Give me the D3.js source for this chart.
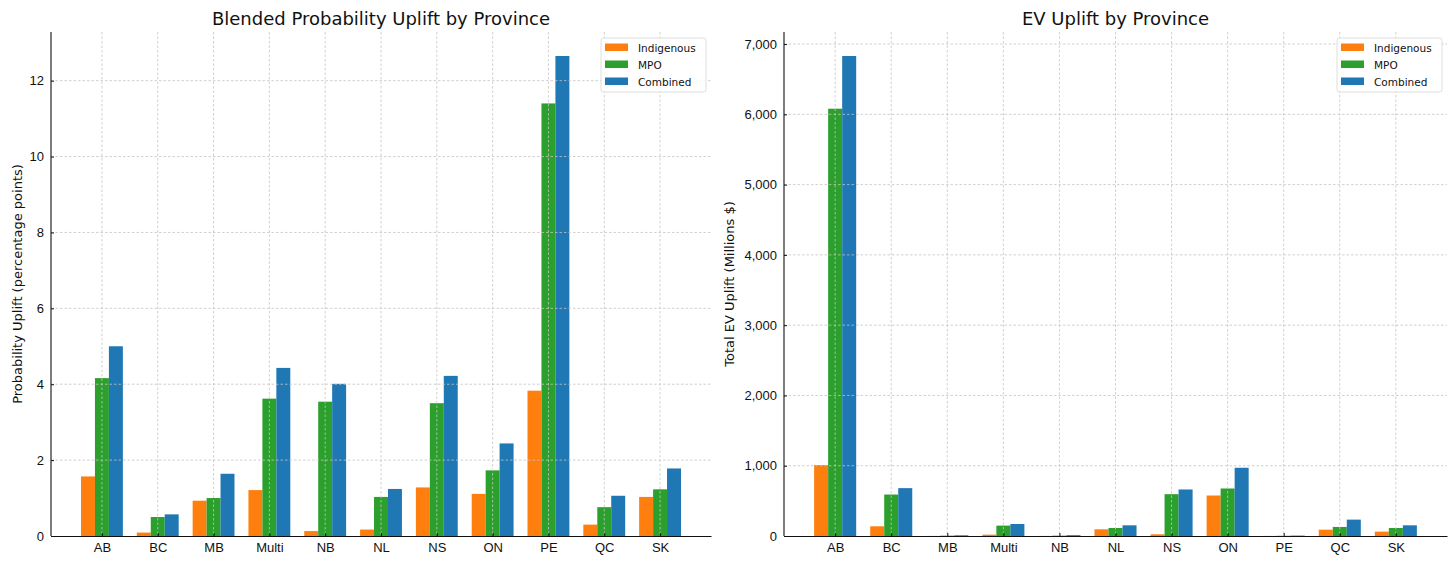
<!DOCTYPE html>
<html lang="en">
<head>
  <meta charset="UTF-8" />
  <title>Uplift by Province</title>
  <style>
    html, body { margin: 0; padding: 0; background: #fff; }
    svg { display: block; font-family: "DejaVu Sans", sans-serif; }
    .grid line { stroke: #c4c4c4; stroke-width: 0.8; stroke-dasharray: 2.5,2; }
    .axis path, .axis line { stroke: #111; }
    .axis text { font-size: 13px; fill: #111; }
    .title { font-size: 18px; fill: #111; text-anchor: middle; }
    .ylabel { font-size: 13px; fill: #111; text-anchor: middle; }
    .legend text { font-size: 10.5px; fill: #111; dominant-baseline: central; }
  </style>
</head>
<body>
  <svg width="1456" height="566"></svg>
  <script src="https://d3js.org/d3.v7.min.js"></script>
  <script>
    const provinces = ["AB", "BC", "MB", "Multi", "NB", "NL", "NS", "ON", "PE", "QC", "SK"];
    const seriesNames = ["Indigenous", "MPO", "Combined"];
    const seriesColors = ["#ff7f0e", "#2ca02c", "#1f77b4"];

    // probability uplift, percentage points
    const probIndigenous = [1.57, 0.09, 0.93, 1.21, 0.13, 0.17, 1.28, 1.11, 3.83, 0.30, 1.03];
    const probMPO        = [4.16, 0.50, 1.00, 3.62, 3.54, 1.03, 3.50, 1.73, 11.40, 0.76, 1.23];
    const probCombined   = [5.00, 0.57, 1.64, 4.43, 4.01, 1.24, 4.22, 2.44, 12.65, 1.06, 1.78];

    // total EV uplift, millions $
    const evIndigenous = [1010, 138, 1, 19, 1, 95, 24, 576, 1, 90, 62];
    const evMPO        = [6080, 590, 5, 148, 5, 114, 595, 676, 3, 129, 114];
    const evCombined   = [6830, 681, 10, 171, 12, 152, 662, 971, 6, 233, 152];

    const probTicks = [0, 2, 4, 6, 8, 10, 12];
    const evTicks = [0, 1000, 2000, 3000, 4000, 5000, 6000, 7000];

    const svg = d3.select("svg");

    function drawPanel(opts) {
      const g = svg.append("g");
      const series = opts.series;
      const barW = 0.25;
      const maxVal = d3.max(series.flat());

      const x = d3.scaleLinear()
        .domain([-0.9125, provinces.length - 1 + 0.9125])
        .range([opts.left, opts.right]);
      const y = d3.scaleLinear()
        .domain([0, maxVal * 1.05])
        .range([opts.bottom, opts.top]);

      // bars
      series.forEach((vals, si) => {
        g.append("g")
          .selectAll("rect")
          .data(vals)
          .join("rect")
          .attr("x", (d, i) => x(i + (si - 1) * barW - barW / 2))
          .attr("width", x(barW) - x(0))
          .attr("y", d => y(d))
          .attr("height", d => y(0) - y(d))
          .attr("fill", seriesColors[si]);
      });

      // grid, drawn over the bars like matplotlib does
      const grid = g.append("g").attr("class", "grid");
      grid.selectAll("line.h")
        .data(opts.ticks.filter(t => t > 0))
        .join("line")
        .attr("class", "h")
        .attr("x1", opts.left).attr("x2", opts.right)
        .attr("y1", d => y(d)).attr("y2", d => y(d));
      grid.selectAll("line.v")
        .data(provinces.map((p, i) => i))
        .join("line")
        .attr("class", "v")
        .attr("x1", d => x(d)).attr("x2", d => x(d))
        .attr("y1", opts.top).attr("y2", opts.bottom);

      // axes
      const yAxis = d3.axisLeft(y)
        .tickValues(opts.ticks)
        .tickFormat(opts.fmt)
        .tickSizeInner(-3).tickSizeOuter(0).tickPadding(7);
      g.append("g")
        .attr("class", "axis")
        .attr("transform", `translate(${opts.left},0)`)
        .call(yAxis)
        .call(a => a.select(".domain").attr("d", `M0,${opts.top}V${opts.bottom}`));

      const xAxis = d3.axisBottom(x)
        .tickValues(provinces.map((p, i) => i))
        .tickFormat(i => provinces[i])
        .tickSizeInner(-3).tickSizeOuter(0).tickPadding(7);
      g.append("g")
        .attr("class", "axis")
        .attr("transform", `translate(0,${opts.bottom})`)
        .call(xAxis);

      g.selectAll(".axis .domain").attr("stroke-width", 1.1);

      // title and y label
      g.append("text")
        .attr("class", "title")
        .attr("x", (opts.left + opts.right) / 2)
        .attr("y", 25)
        .text(opts.title);

      g.append("text")
        .attr("class", "ylabel")
        .attr("transform", `translate(${opts.labelX},${(opts.top + opts.bottom) / 2}) rotate(-90)`)
        .text(opts.ylabel);

      // legend
      const lw = 105, lh = 54;
      const lx = opts.right - 5 - lw, ly = opts.top + 6;
      const legend = g.append("g").attr("class", "legend");
      legend.append("rect")
        .attr("x", lx).attr("y", ly)
        .attr("width", lw).attr("height", lh)
        .attr("rx", 2.5)
        .attr("fill", "#fff").attr("fill-opacity", 0.85)
        .attr("stroke", "#d6d6d6").attr("stroke-width", 0.8);
      const rows = legend.selectAll("g.row")
        .data(seriesNames)
        .join("g")
        .attr("class", "row")
        .attr("transform", (d, i) => `translate(${lx + 4},${ly + 9 + i * 17})`);
      rows.append("rect")
        .attr("x", 0).attr("y", -3.5)
        .attr("width", 23).attr("height", 7.5)
        .attr("fill", (d, i) => seriesColors[i]);
      rows.append("text")
        .attr("x", 33).attr("y", 0.5)
        .text(d => d);
    }

    drawPanel({
      left: 51, right: 711, top: 32, bottom: 536,
      series: [probIndigenous, probMPO, probCombined],
      ticks: probTicks,
      fmt: d3.format("d"),
      title: "Blended Probability Uplift by Province",
      ylabel: "Probability Uplift (percentage points)",
      labelX: 22
    });

    drawPanel({
      left: 784, right: 1447, top: 32, bottom: 536,
      series: [evIndigenous, evMPO, evCombined],
      ticks: evTicks,
      fmt: d3.format(","),
      title: "EV Uplift by Province",
      ylabel: "Total EV Uplift (Millions $)",
      labelX: 734
    });
  </script>
</body>
</html>
